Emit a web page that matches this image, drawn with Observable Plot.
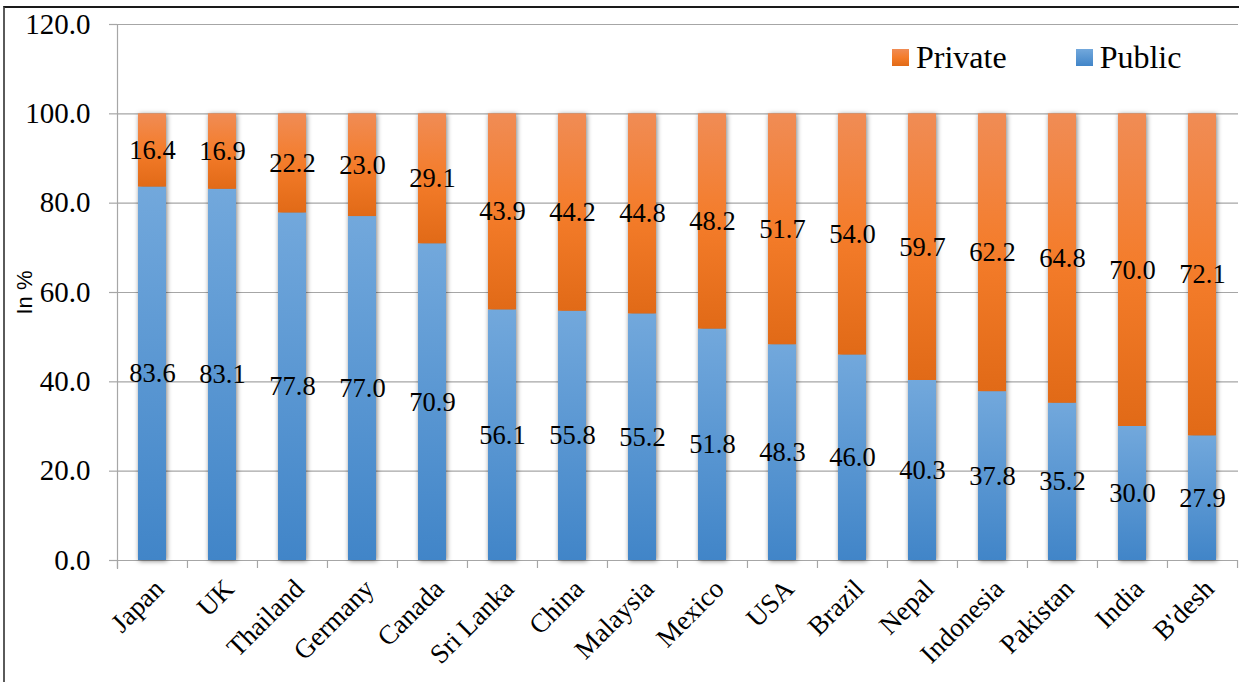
<!DOCTYPE html>
<html>
<head>
<meta charset="utf-8">
<script src="https://cdn.jsdelivr.net/npm/d3@7"></script>
<script src="https://cdn.jsdelivr.net/npm/@observablehq/plot@0.6"></script>
<style>
  html, body { margin: 0; padding: 0; background: #fff; overflow: hidden; }
  #wrap { position: relative; width: 1239px; height: 682px; }
  #frame { position: absolute; left: 3px; top: 6px; width: 1300px; height: 720px;
           border-left: 2px solid #5a5a5a; border-top: 2px solid #1a1a1a; box-sizing: border-box; pointer-events: none; }
  .legend { position: absolute; top: 39px; left: 892px; display: flex; align-items: center;
            font-family: "Liberation Serif", serif; font-size: 32px; color: #000; }
  .legend .item { display: flex; align-items: center; }
  .legend .sw { width: 17px; height: 17px; margin-right: 7px; }
  .legend .item + .item { margin-left: 69px; }
</style>
</head>
<body>
<div id="wrap"></div>
<script>
// Share of public and private spending, by country (percent)
const countries = ["Japan", "UK", "Thailand", "Germany", "Canada", "Sri Lanka", "China", "Malaysia",
                   "Mexico", "USA", "Brazil", "Nepal", "Indonesia", "Pakistan", "India", "B'desh"];
const publicShare  = [83.6, 83.1, 77.8, 77.0, 70.9, 56.1, 55.8, 55.2, 51.8, 48.3, 46.0, 40.3, 37.8, 35.2, 30.0, 27.9];
const privateShare = [16.4, 16.9, 22.2, 23.0, 29.1, 43.9, 44.2, 44.8, 48.2, 51.7, 54.0, 59.7, 62.2, 64.8, 70.0, 72.1];
const seriesNames = ["Public", "Private"];
const legendOrder = ["Private", "Public"];
const yTicks = [0, 20, 40, 60, 80, 100, 120];

const rows = countries.flatMap((country, i) => [
  {country, series: "Public", value: publicShare[i]},
  {country, series: "Private", value: privateShare[i]}
]);

const W = 1239, H = 682;
const margin = {left: 117, right: 1, top: 24, bottom: 122};
const paddingInner = 0.595;
const step = (W - margin.left - margin.right) / countries.length;

const serif = "'Liberation Serif', serif";
const gridColor = "#a6a6a6";

const fills = {Public: "url(#gradPublic)", Private: "url(#gradPrivate)"};

const chart = Plot.plot({
  width: W,
  height: H,
  marginLeft: margin.left,
  marginRight: margin.right,
  marginTop: margin.top,
  marginBottom: margin.bottom,
  style: {fontFamily: serif, color: "#000", background: "transparent", overflow: "visible"},
  x: {type: "band", domain: countries, paddingInner, paddingOuter: paddingInner / 2, align: 0.5, axis: null},
  y: {domain: [0, 120], axis: null},
  color: {type: "ordinal", domain: seriesNames, range: seriesNames.map(s => fills[s])},
  marks: [
    Plot.gridY(yTicks, {stroke: gridColor, strokeOpacity: 1, strokeWidth: 1.2}),
    Plot.axisY(yTicks, {
      tickFormat: d3.format(".1f"), tickSize: 8, tickPadding: 19,
      stroke: gridColor, strokeOpacity: 1, strokeWidth: 1.2,
      fontSize: 29, fontFamily: serif, fill: "#000", label: null
    }),
    Plot.axisY({
      ticks: [], tickSize: 0, label: "In %", labelAnchor: "center", labelArrow: "none",
      labelOffset: 101, fontSize: 22, fontFamily: "'Liberation Sans', sans-serif", fill: "#000"
    }),
    Plot.frame({anchor: "left", stroke: gridColor, strokeWidth: 1.2, insetBottom: -8}),
    Plot.ruleY([0], {stroke: gridColor, strokeWidth: 1.2, insetLeft: -8}),
    // category separators below the baseline
    Plot.ruleX(countries, {x: d => d, y1: 0, y2: 0, insetBottom: -8, dx: -step / 2, stroke: gridColor, strokeWidth: 1.2}),
    Plot.ruleX(countries.slice(-1), {x: d => d, y1: 0, y2: 0, insetBottom: -8, dx: step / 2, stroke: gridColor, strokeWidth: 1.2}),
    Plot.barY(rows, {x: "country", y: "value", fill: "series"}),
    Plot.text(rows, Plot.stackY({
      x: "country", y: "value", text: d => d.value.toFixed(1),
      fontSize: 26.5, fontFamily: serif, fill: "#000"
    })),
    Plot.text(countries, {
      x: d => d, frameAnchor: "bottom", text: d => d, rotate: -45,
      textAnchor: "end", lineAnchor: "bottom", dx: 13, dy: 30,
      fontSize: 27, fontFamily: serif, fill: "#000"
    })
  ]
});

// gradients for the bar segments
const svg = d3.select(chart);
const defs = svg.insert("defs", ":first-child");
const gradients = {
  gradPublic: [[0, "#72a8dc"], [1, "#4185c8"]],
  gradPrivate: [[0, "#f08c55"], [0.5, "#f47c2a"], [1, "#e16a17"]]
};
for (const [id, stops] of Object.entries(gradients)) {
  const g = defs.append("linearGradient").attr("id", id)
    .attr("x1", 0).attr("y1", 0).attr("x2", 0).attr("y2", 1);
  for (const [o, c] of stops) g.append("stop").attr("offset", o).attr("stop-color", c);
}
svg.selectAll("g[aria-label=bar]").style("filter", "drop-shadow(1.5px 1px 2.5px rgba(0,0,0,0.5))");

const wrap = document.getElementById("wrap");
wrap.appendChild(chart);
chart.style.position = "absolute";
chart.style.left = "0px";
chart.style.top = "0px";

const frame = document.createElement("div");
frame.id = "frame";
wrap.appendChild(frame);

const legend = document.createElement("div");
legend.className = "legend";
for (const s of legendOrder) {
  const item = document.createElement("div");
  item.className = "item";
  const sw = document.createElement("div");
  sw.className = "sw";
  sw.style.background = s === "Public"
    ? "linear-gradient(#72a8dc, #4185c8)"
    : "linear-gradient(#f08c55, #f47c2a, #e16a17)";
  const label = document.createElement("span");
  label.textContent = s;
  item.append(sw, label);
  legend.appendChild(item);
}
wrap.appendChild(legend);
</script>
</body>
</html>
